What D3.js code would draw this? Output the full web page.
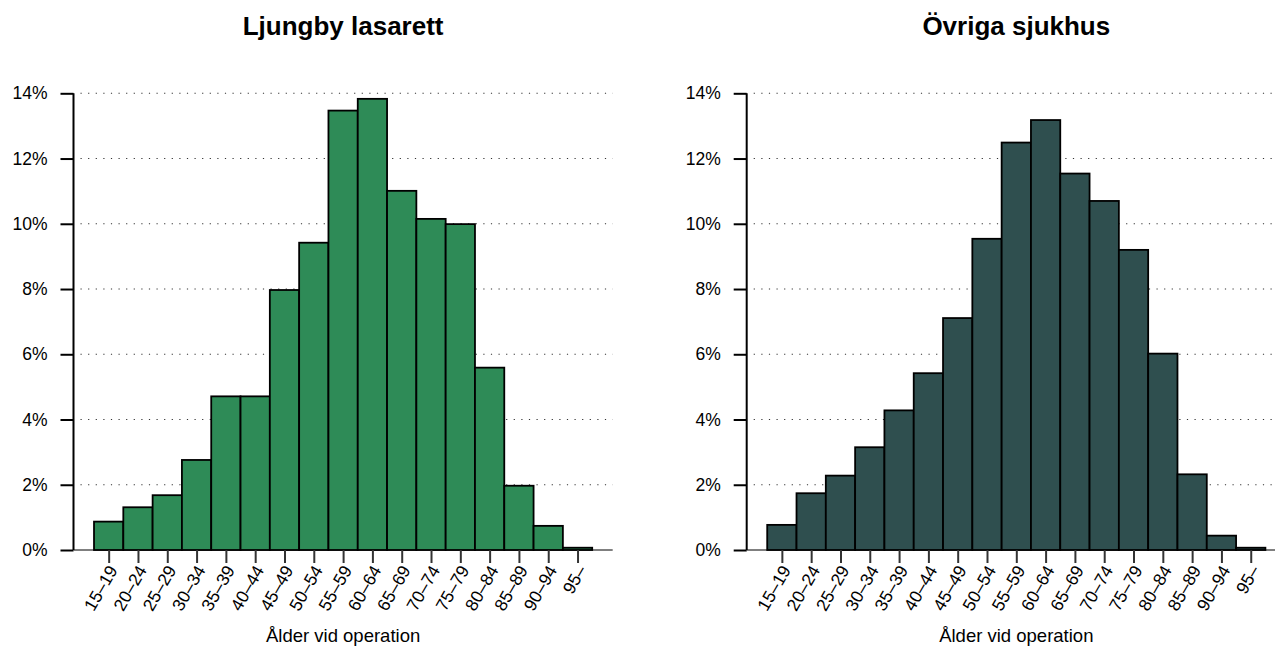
<!DOCTYPE html>
<html><head><meta charset="utf-8">
<script src="https://cdn.jsdelivr.net/npm/d3@7"></script>
<style>body{margin:0;background:#fff}svg{display:block;font-family:"Liberation Sans",Arial,sans-serif}</style>
</head><body><svg id="c" width="1275" height="648"></svg>
<script>
const categories = ["15–19","20–24","25–29","30–34","35–39","40–44","45–49","50–54","55–59","60–64","65–69","70–74","75–79","80–84","85–89","90–94","95–"];
const ljungby = [0.87,1.31,1.68,2.76,4.71,4.71,7.97,9.42,13.47,13.83,11.01,10.15,9.99,5.59,1.97,0.74,0.07];
const ovriga  = [0.77,1.74,2.28,3.15,4.28,5.42,7.11,9.54,12.49,13.18,11.54,10.70,9.20,6.02,2.32,0.44,0.07];
const yTicks = [0,2,4,6,8,10,12,14];
const titles = ["Ljungby lasarett","Övriga sjukhus"];
const colors = ["#2E8B57","#2F4F4F"];
const xTitle = "Ålder vid operation";

const svg = d3.select("#c");
const panels = [{x0:73.5, data:ljungby},{x0:746.7, data:ovriga}];
const y = d3.scaleLinear().domain([0,14]).range([550,93.3]);

panels.forEach((p,i)=>{
  const x = d3.scaleLinear().domain([-0.7,17.7]).range([p.x0, p.x0+539.2]);
  const g = svg.append("g");
  const xr = x.range();
  g.selectAll("line.grid").data(yTicks.filter(t=>t>0)).join("line")
    .attr("x1", xr[0]+7).attr("x2", xr[1]).attr("y1", d=>y(d)).attr("y2", d=>y(d))
    .attr("stroke","#333").attr("stroke-width",1.1).attr("stroke-dasharray","1.2,6.4");
  g.append("line").attr("x1",xr[0]).attr("x2",xr[1]).attr("y1",y(0)).attr("y2",y(0))
    .attr("stroke","#000").attr("stroke-width",1);
  g.selectAll("rect.bar").data(p.data).join("rect")
    .attr("x",(d,j)=>x(j)).attr("width",x(1)-x(0))
    .attr("y",d=>y(d)).attr("height",d=>y(0)-y(d))
    .attr("fill",colors[i]).attr("stroke","#000").attr("stroke-width",1.8);
  const ya = d3.axisLeft(y).tickValues(yTicks).tickFormat(d=>d+"%").tickSize(13).tickPadding(13);
  const yg = g.append("g").attr("transform",`translate(${xr[0]},0)`).call(ya);
  yg.attr("font-size",null).attr("font-family",null);
  yg.select(".domain").attr("d",`M0,${y(14)}V${y(0)}`).attr("stroke","#000").attr("stroke-width",2);
  yg.selectAll(".tick line").attr("stroke","#000").attr("stroke-width",2);
  yg.selectAll(".tick text").style("font-size","17.5px").attr("fill","#000");
  const xb = d3.scalePoint().domain(categories).range([x(0.5), x(16.5)]);
  const xa = d3.axisBottom(xb).tickSize(13).tickPadding(0);
  const xg = g.append("g").attr("transform",`translate(0,${y(0)})`).call(xa);
  xg.attr("font-size",null).attr("font-family",null);
  xg.select(".domain").remove();
  xg.selectAll(".tick line").attr("stroke","#333").attr("stroke-width",2);
  xg.selectAll(".tick text").style("font-size","17.5px").attr("fill","#000")
    .attr("text-anchor","end").attr("dy",null).attr("y",null)
    .attr("transform","translate(9,20) rotate(-60)");
  g.append("text").attr("x",(xr[0]+xr[1])/2).attr("y",35).attr("text-anchor","middle")
    .style("font-size","26px").attr("font-weight","bold").text(titles[i]);
  g.append("text").attr("x",(xr[0]+xr[1])/2).attr("y",642).attr("text-anchor","middle")
    .style("font-size","18.5px").text(xTitle);
});
</script></body></html>
